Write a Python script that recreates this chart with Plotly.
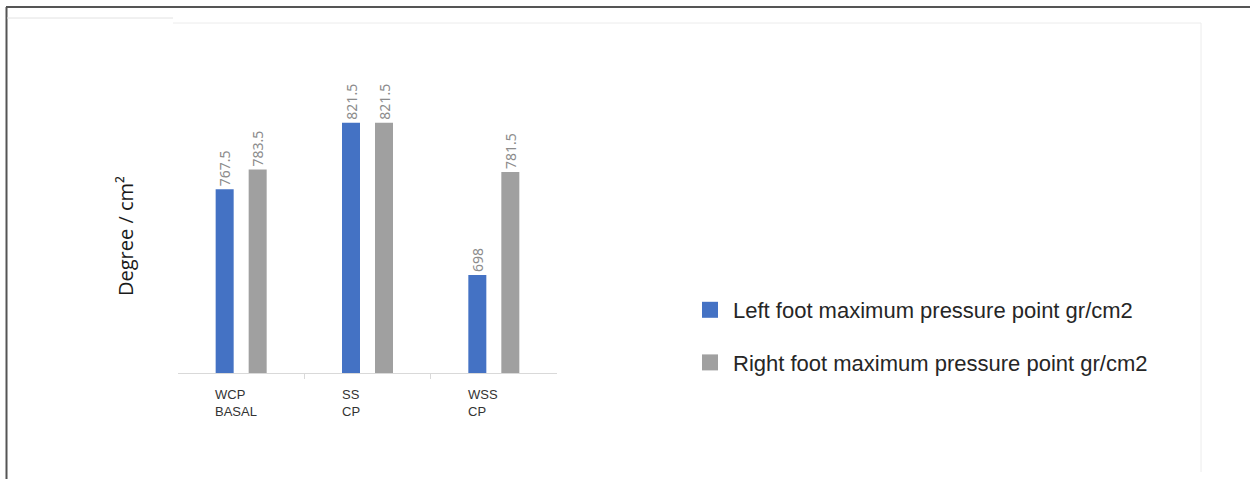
import plotly.graph_objects as go

# Data
categories = ["WCP<br>BASAL", "SS<br>CP", "WSS<br>CP"]
left_foot = [767.5, 821.5, 698]
right_foot = [783.5, 821.5, 781.5]
series_names = ["Left foot maximum pressure point gr/cm2",
                "Right foot maximum pressure point gr/cm2"]
y_title = "Degree / cm²"

BLUE = "#4472C4"
GREY = "#A0A0A0"
W, H = 1250, 479


def px_x(p):
    return p / W


def px_y(p):
    return 1 - p / H


fig = go.Figure()

for vals, color in ((left_foot, BLUE), (right_foot, GREY)):
    fig.add_trace(go.Bar(
        x=categories, y=vals,
        marker=dict(color=color, line=dict(width=0)),
        texttemplate="%{y}", textposition="outside", textangle=-90,
        constraintext="none", cliponaxis=False,
        textfont=dict(family="Noto Sans", size=14, color="#8C8C8C"),
        showlegend=False, hoverinfo="skip",
    ))

# separators between category groups (ticks on an overlaid numeric axis)
boundaries = [i + 0.5 for i in range(len(categories) - 1)]
fig.add_trace(go.Scatter(
    x=boundaries, y=[None] * len(boundaries), xaxis="x2", yaxis="y",
    mode="markers", showlegend=False, hoverinfo="skip",
))

# legend entries with larger square swatches
for i, (name, color) in enumerate(zip(series_names, (BLUE, GREY))):
    fig.add_trace(go.Scatter(
        x=[None], y=[None], mode="markers", name=name,
        legendgroup=f"g{i}",
        marker=dict(symbol="square", size=16, color=color, line=dict(width=0)),
    ))

# category labels, left aligned under each group
for c in categories:
    fig.add_annotation(
        x=c, xref="x", y=px_y(385), yref="paper",
        text=c, showarrow=False, xanchor="left", yanchor="top",
        align="left", xshift=-28,
        font=dict(family="Liberation Sans", size=13, color="#333333"),
    )

fig.add_annotation(
    x=px_x(125), y=px_y(236), xref="paper", yref="paper",
    text=y_title, textangle=-90, showarrow=False,
    xanchor="center", yanchor="middle",
    font=dict(family="Open Sans", size=20, color="#1a1a1a"),
)

# outer frame
shapes = [
    dict(type="line", xref="paper", yref="paper", x0=px_x(6), x1=1,
         y0=px_y(7), y1=px_y(7), line=dict(color="#555555", width=2)),
    dict(type="line", xref="paper", yref="paper", x0=px_x(6.5), x1=px_x(6.5),
         y0=px_y(7), y1=0, line=dict(color="#555555", width=2)),
    dict(type="line", xref="paper", yref="paper", x0=px_x(7), x1=px_x(173),
         y0=px_y(18), y1=px_y(18), line=dict(color="#e2e2e2", width=1)),
    dict(type="line", xref="paper", yref="paper", x0=px_x(173), x1=px_x(1201),
         y0=px_y(23), y1=px_y(23), line=dict(color="#ececec", width=1)),
    dict(type="line", xref="paper", yref="paper", x0=px_x(1201), x1=px_x(1201),
         y0=px_y(23), y1=px_y(472), line=dict(color="#ececec", width=1)),
]

fig.update_layout(
    width=W, height=H,
    margin=dict(l=0, r=0, t=0, b=0),
    paper_bgcolor="white", plot_bgcolor="white",
    barmode="group", bargap=0.4775, bargroupgap=0.4545,
    shapes=shapes,
    showlegend=True,
    legend=dict(
        x=px_x(687), y=px_y(289), xanchor="left", yanchor="top",
        itemwidth=36, tracegroupgap=21,
        font=dict(family="Liberation Sans", size=22, color="#262626"),
        bgcolor="rgba(0,0,0,0)",
    ),
    xaxis=dict(
        domain=[px_x(178), px_x(557)],
        showline=True, linecolor="#D9D9D9", linewidth=1,
        ticks="", showticklabels=False, showgrid=False, zeroline=False,
        fixedrange=True,
    ),
    xaxis2=dict(
        domain=[px_x(178), px_x(557)], overlaying="x", anchor="y",
        range=[-0.5, len(categories) - 0.5],
        tickmode="array", tickvals=boundaries,
        ticks="outside", ticklen=5, tickcolor="#D9D9D9",
        showline=False, showticklabels=False, showgrid=False,
        zeroline=False, fixedrange=True,
    ),
    yaxis=dict(
        domain=[px_y(373), px_y(60)],
        range=[618.5, 872.3],
        showline=False, showticklabels=False, showgrid=False,
        zeroline=False, ticks="", fixedrange=True,
    ),
)

fig.write_html("out.html")
